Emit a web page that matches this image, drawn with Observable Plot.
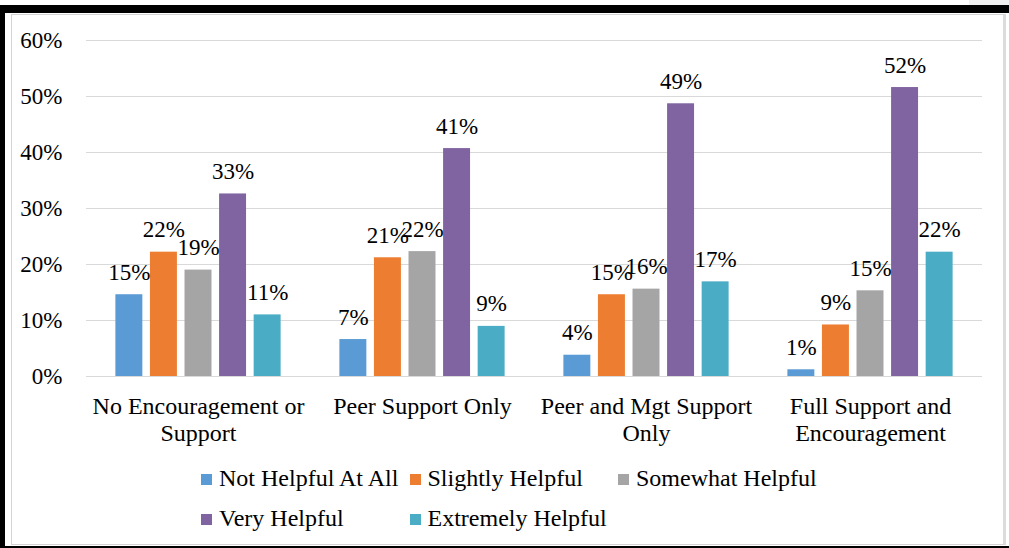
<!DOCTYPE html>
<html>
<head>
<meta charset="utf-8">
<script src="https://cdn.jsdelivr.net/npm/d3@7"></script>
<script src="https://cdn.jsdelivr.net/npm/@observablehq/plot@0.6"></script>
<style>
  html, body { margin: 0; padding: 0; background: #fff; }
  #wrap { position: relative; width: 1009px; height: 548px; overflow: hidden; font-family: "Liberation Serif", "Times New Roman", serif; }
  #chart svg { display: block; }
  .legend { display: grid; grid-template-columns: 208.5px 208.5px 208.5px; padding-left: 201px; font-size: 24px; line-height: 40px; color: #000; }
  .legend .item { white-space: nowrap; }
  .legend .sw { display: inline-block; width: 11px; height: 11px; margin-right: 7px; margin-bottom: 1px; vertical-align: baseline; }
  .frame { position: absolute; left: 0; top: 5px; width: 1009px; height: 543px; box-sizing: border-box; border-top: 8px solid #000; border-left: 5px solid #000; border-bottom: 2px solid #000; pointer-events: none; z-index: 2; }
  .inner { position: absolute; left: 11px; top: 14px; width: 995px; height: 531px; box-sizing: border-box; border: 1px solid #d4d4d4; border-right: 3px solid #dcdcdc; pointer-events: none; z-index: 2; }
  .corner { position: absolute; left: 969px; top: 0; width: 40px; height: 5px; background: #f0f0f0; z-index: 2; }
</style>
</head>
<body>
<div id="wrap">
  <div id="chart"></div>
  <div class="frame"></div>
  <div class="inner"></div>
  <div class="corner"></div>
</div>
<script>
const categories = ["No Encouragement or Support", "Peer Support Only", "Peer and Mgt Support Only", "Full Support and Encouragement"];
const categoryLabels = ["No Encouragement or\nSupport", "Peer Support Only", "Peer and Mgt Support\nOnly", "Full Support and\nEncouragement"];
const series = ["Not Helpful At All", "Slightly Helpful", "Somewhat Helpful", "Very Helpful", "Extremely Helpful"];
const notHelpfulAtAll = [0.146, 0.066, 0.038, 0.012];
const slightlyHelpful = [0.222, 0.212, 0.146, 0.092];
const somewhatHelpful = [0.190, 0.223, 0.156, 0.153];
const veryHelpful = [0.326, 0.407, 0.487, 0.516];
const extremelyHelpful = [0.110, 0.0895, 0.169, 0.222];
const seriesColors = ["#5B9BD5", "#ED7D31", "#A5A5A5", "#8064A2", "#4BACC6"];
const yTicks = [0, 0.1, 0.2, 0.3, 0.4, 0.5, 0.6];

const seriesValues = [notHelpfulAtAll, slightlyHelpful, somewhatHelpful, veryHelpful, extremelyHelpful];
const data = [];
categories.forEach((c, ci) => {
  series.forEach((s, si) => {
    data.push({category: c, series: s, value: seriesValues[si][ci]});
  });
});

const pct = d3.format(".0%");
const serif = "'Liberation Serif', 'Times New Roman', serif";

const chart = Plot.plot({
  width: 1009,
  height: 458,
  marginLeft: 86,
  marginRight: 27,
  marginTop: 40,
  marginBottom: 82,
  style: {fontFamily: serif, fontSize: "24px", color: "#000", background: "transparent", overflow: "visible"},
  fx: {domain: categories, padding: 0, round: false},
  x: {domain: series, paddingInner: 0.22, paddingOuter: 0.85, round: false, axis: null},
  y: {domain: [0, 0.6]},
  color: {domain: series, range: seriesColors},
  marks: [
    Plot.gridY(yTicks, {stroke: "#d9d9d9", strokeOpacity: 1, strokeWidth: 1.2}),
    Plot.barY(data, {fx: "category", x: "series", y: "value", fill: "series"}),
    Plot.text(data, {fx: "category", x: "series", y: "value", text: d => pct(d.value), dy: -15, lineAnchor: "bottom", fontSize: 23, fontFamily: serif, fill: "#000"}),
    Plot.axisY(yTicks, {tickFormat: d => pct(d), tickSize: 0, tickPadding: 24, fontSize: 23, fontFamily: serif, label: null}),
    Plot.axisFx({anchor: "bottom", tickFormat: d => categoryLabels[categories.indexOf(d)], tickSize: 0, tickPadding: 18, lineHeight: 1.14, label: null, fontSize: 24, fontFamily: serif})
  ]
});
document.getElementById("chart").appendChild(chart);

const legend = document.createElement("div");
legend.className = "legend";
series.forEach((s, i) => {
  const item = document.createElement("div");
  item.className = "item";
  const sw = document.createElement("span");
  sw.className = "sw";
  sw.style.background = seriesColors[i];
  item.appendChild(sw);
  item.appendChild(document.createTextNode(s));
  legend.appendChild(item);
});
document.getElementById("chart").appendChild(legend);
</script>
</body>
</html>
